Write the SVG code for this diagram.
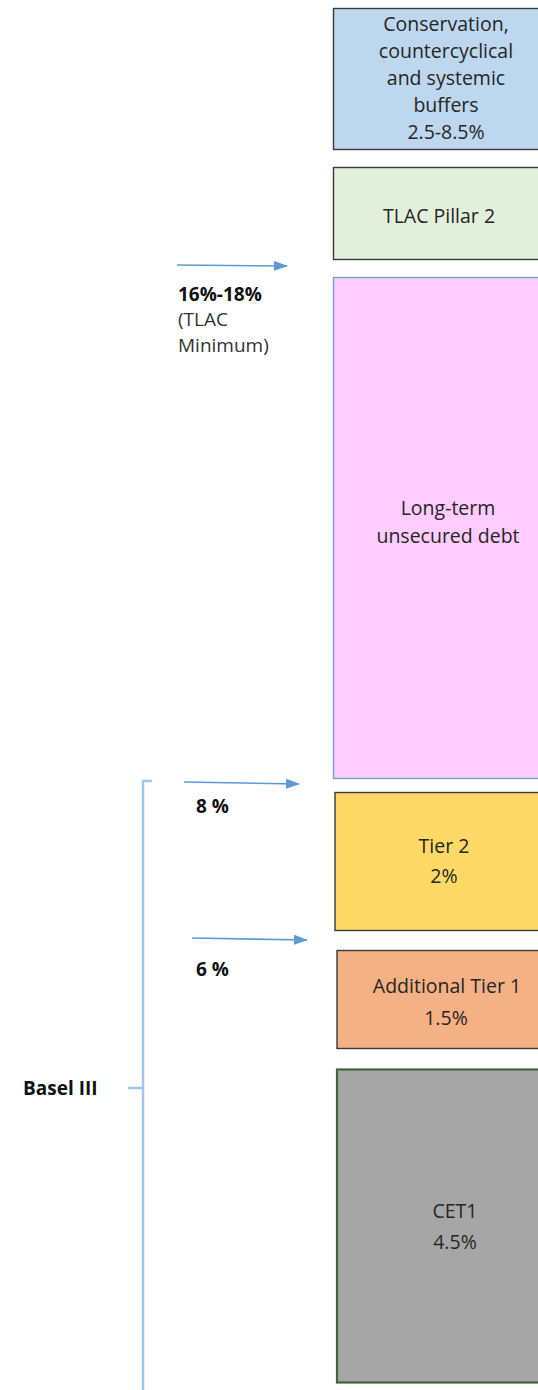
<svg xmlns="http://www.w3.org/2000/svg" width="538" height="1390" viewBox="0 0 538 1390">
  <defs>
    <marker id="ah" markerWidth="14" markerHeight="10" refX="13" refY="5" orient="auto" markerUnits="userSpaceOnUse">
      <path d="M0,0 L14,5 L0,10 Z" fill="#5B9BD5"/>
    </marker>
    <style>
      .box { stroke: #3a3a3a; stroke-width: 1.4; }
      .t { font-family: "Open Sans", "Liberation Sans", sans-serif; font-size: 19.5px; fill: #262626; text-anchor: middle; }
      .lbl { font-family: "Open Sans", "Liberation Sans", sans-serif; font-size: 19px; fill: #333; }
      .b { font-weight: bold; fill: #111; }
      .arr { stroke: #5B9BD5; stroke-width: 1.6; fill: none; }
      .brk { stroke: #A3C7EA; stroke-width: 2.5; fill: none; }
    </style>
  </defs>

  <g id="buffers">
    <rect class="box" x="333.5" y="8.5" width="240" height="141" fill="#BDD7EE"/>
    <text class="t" x="446" y="31">Conservation,</text>
    <text class="t" x="446" y="58">countercyclical</text>
    <text class="t" x="446" y="85">and systemic</text>
    <text class="t" x="446" y="112">buffers</text>
    <text class="t" x="446" y="139">2.5-8.5%</text>
  </g>

  <g id="tlac-pillar2">
    <rect class="box" x="333.5" y="167.5" width="240" height="92" fill="#E2EFDA"/>
    <text class="t" x="439" y="223">TLAC Pillar 2</text>
  </g>

  <g id="lt-debt">
    <rect x="333.5" y="277.5" width="240" height="501" fill="#FFCCFF" stroke="#7F9FD0" stroke-width="1.4"/>
    <text class="t" x="448" y="515">Long-term</text>
    <text class="t" x="448" y="543">unsecured debt</text>
  </g>

  <g id="tier2">
    <rect class="box" x="335" y="792.5" width="240" height="138" fill="#FFD966"/>
    <text class="t" x="444" y="853">Tier 2</text>
    <text class="t" x="444" y="883">2%</text>
  </g>

  <g id="at1">
    <rect class="box" x="337" y="950.5" width="240" height="98" fill="#F4B183"/>
    <text class="t" x="447" y="993">Additional Tier 1</text>
    <text class="t" x="446" y="1025">1.5%</text>
  </g>

  <g id="cet1">
    <rect x="337" y="1069.5" width="240" height="313" fill="#A6A6A6" stroke="#3F6639" stroke-width="2.2"/>
    <text class="t" x="455" y="1218">CET1</text>
    <text class="t" x="455" y="1249">4.5%</text>
  </g>

  <g id="labels">
    <text class="lbl b" x="178" y="301" font-size="20">16%-18%</text>
    <text class="lbl" x="178" y="326">(TLAC</text>
    <text class="lbl" x="178" y="352">Minimum)</text>
    <text class="lbl b" x="196" y="813" font-size="18.5">8 %</text>
    <text class="lbl b" x="196" y="976" font-size="18.5">6 %</text>
    <text class="lbl b" x="23" y="1095" font-size="17.5">Basel III</text>
  </g>

  <g id="connectors">
    <line class="arr" x1="177" y1="265" x2="287" y2="266" marker-end="url(#ah)"/>
    <line class="arr" x1="184" y1="782" x2="299" y2="784" marker-end="url(#ah)"/>
    <line class="arr" x1="192" y1="938" x2="307" y2="940" marker-end="url(#ah)"/>
    <path class="brk" d="M152,781 L143,781 L143,1390"/>
    <line class="brk" x1="128" y1="1088" x2="143" y2="1088"/>
  </g>
</svg>
